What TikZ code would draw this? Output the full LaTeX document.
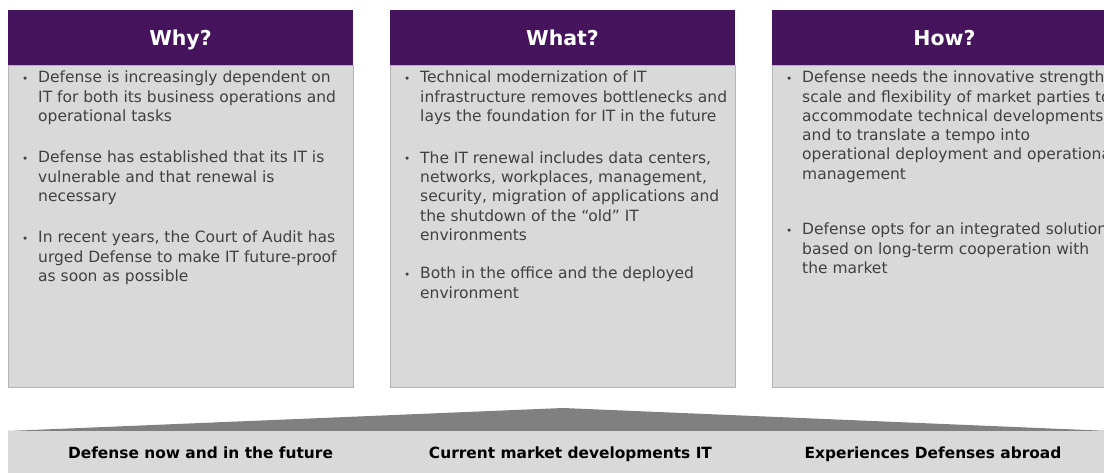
\documentclass[tikz,border=0pt]{standalone}
\usepackage{fontspec}
\setmainfont{DejaVu Sans}
\definecolor{boxgray}{HTML}{D9D9D9}
\definecolor{edgegray}{HTML}{B4B4B4}
\definecolor{hpurple}{HTML}{45145C}
\definecolor{textgray}{HTML}{404040}
\definecolor{wedgegray}{HTML}{808080}
\newcommand{\bl}{\makebox[16pt][l]{\raisebox{0.5pt}{\fontsize{10.5}{10}\selectfont •}}}
\newcommand{\ind}{\hspace*{16pt}}
\tikzset{
  colbody/.style={fill=boxgray, draw=edgegray, line width=0.8pt, anchor=north west, minimum width=345pt, minimum height=322pt, inner sep=0pt},
  colhead/.style={fill=hpurple, anchor=north west, minimum width=345pt, minimum height=55pt, inner sep=0pt},
  htext/.style={text=white, font=\fontsize{20.5}{24}\selectfont\bfseries, anchor=base, inner sep=0pt},
  btext/.style={text=textgray, font=\fontsize{15.5}{19.3}\selectfont, align=left, anchor=north west, inner sep=0pt},
  ftext/.style={text=black, font=\fontsize{15.4}{18}\selectfont\bfseries, anchor=base, inner sep=0pt},
}
\begin{document}
\begin{tikzpicture}[x=1pt,y=-1pt]
\useasboundingbox (0,0) rectangle (1104,473);
\clip (0,0) rectangle (1104,473);
% columns
\node[colbody] (whyb) at (8,65) {};
\node[colhead] (whyh) at (8,10) {};
\node[colbody] (whatb) at (390,65) {};
\node[colhead] (whath) at (390,10) {};
\node[colbody] (howb) at (772,65) {};
\node[colhead] (howh) at (772,10) {};
\node[htext] (whyt) at (180.5,46) {Why?};
\node[htext] (whatt) at (562.5,46) {What?};
\node[htext] (howt) at (944.5,46) {How?};
% Why texts
\node[btext] (why1) at (22,69) {\strut\bl Defense is increasingly dependent on\\\ind IT for both its business operations and\\\ind operational tasks};
\node[btext] (why2) at (22,149) {\strut\bl Defense has established that its IT is\\\ind vulnerable and that renewal is\\\ind necessary};
\node[btext] (why3) at (22,229) {\strut\bl In recent years, the Court of Audit has\\\ind urged Defense to make IT future-proof\\\ind as soon as possible};
% What texts
\node[btext] (what1) at (404,69) {\strut\bl Technical modernization of IT\\\ind infrastructure removes bottlenecks and\\\ind lays the foundation for IT in the future};
\node[btext] (what2) at (404,149.5) {\strut\bl The IT renewal includes data centers,\\\ind networks, workplaces, management,\\\ind security, migration of applications and\\\ind the shutdown of the “old” IT\\\ind environments};
\node[btext] (what3) at (404,265) {\strut\bl Both in the office and the deployed\\\ind environment};
% How texts
\node[btext] (how1) at (786,69) {\strut\bl Defense needs the innovative strength,\\\ind scale and flexibility of market parties to\\\ind accommodate technical developments\\\ind and to translate a tempo into\\\ind operational deployment and operational\\\ind management};
\node[btext] (how2) at (786,221) {\strut\bl Defense opts for an integrated solution\\\ind based on long-term cooperation with\\\ind the market};
% base
\fill[wedgegray] (8,431) -- (563,408) -- (1110,431) -- cycle;
\node[fill=boxgray, anchor=north west, minimum width=1110pt, minimum height=50pt, inner sep=0pt] (basebar) at (8,431) {};
\node[ftext] (f1) at (200.5,458) {Defense now and in the future};
\node[ftext] (f2) at (570.5,458) {Current market developments IT};
\node[ftext] (f3) at (933,458) {Experiences Defenses abroad};
\end{tikzpicture}
\end{document}
